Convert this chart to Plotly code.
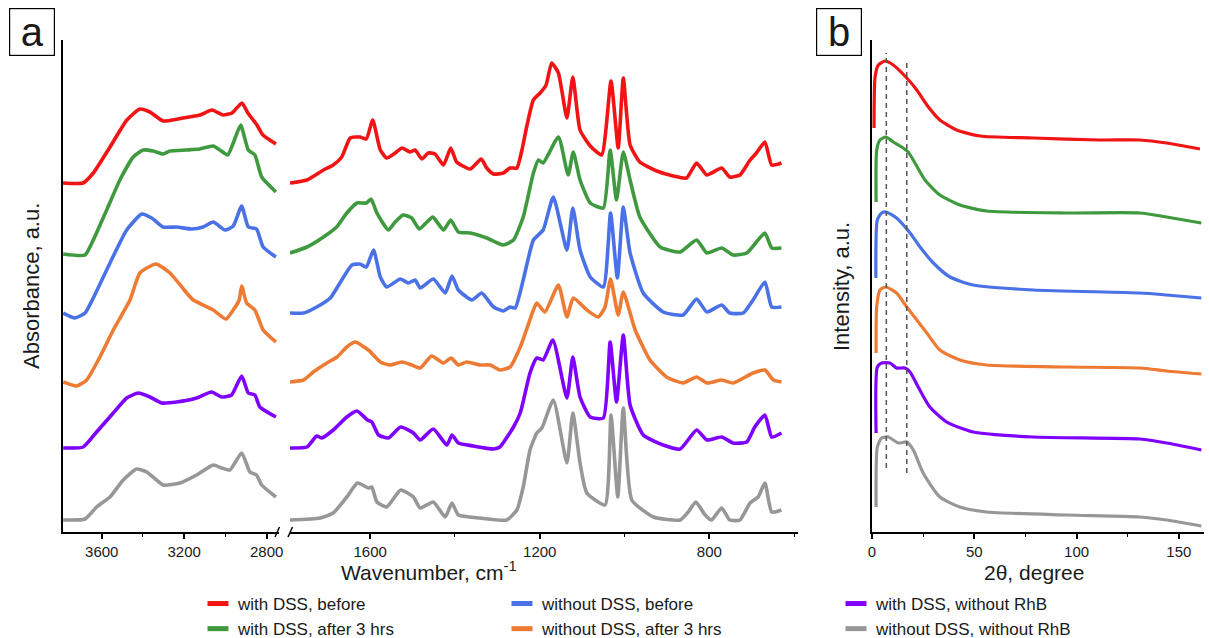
import plotly.graph_objects as go

W, H = 1209, 638

# ---------------- data: FTIR (panel a), stacked absorbance, a.u. ----------------
names = ["with DSS, before", "with DSS, after 3 hrs", "without DSS, before",
         "without DSS, after 3 hrs", "with DSS, without RhB", "without DSS, without RhB"]
colors = ["#f01414", "#3f9a3f", "#4a72e6", "#ed7b34", "#7f00ff", "#979797"]

# high-wavenumber window (3800-2740 cm-1)
wn_hi_red = [3788, 3691, 3641, 3560, 3478, 3415, 3366, 3302, 3206, 3124, 3065, 3012, 2968, 2920, 2891, 2847, 2818, 2755]
ab_hi_red = [349, 349, 359, 385, 412, 423, 420, 411, 414, 417, 422, 417, 419, 429, 419, 407, 397, 388]
wn_hi_green = [3787, 3681, 3641, 3576, 3512, 3447, 3399, 3350, 3302, 3269, 3188, 3124, 3059, 3027, 2989, 2962, 2926, 2889, 2857, 2824, 2755]
ab_hi_green = [278, 277, 292, 322, 352, 375, 382, 381, 378, 381, 382, 383, 386, 382, 377, 389, 407, 382, 377, 355, 340]
wn_hi_blue = [3787, 3730, 3681, 3641, 3560, 3479, 3406, 3358, 3302, 3237, 3164, 3108, 3059, 3002, 2962, 2921, 2889, 2849, 2817, 2755]
ab_hi_blue = [219, 214, 219, 234, 269, 302, 318, 314, 305, 305, 303, 305, 310, 302, 306, 326, 305, 303, 285, 275]
wn_hi_orange = [3787, 3722, 3673, 3609, 3544, 3463, 3415, 3337, 3269, 3188, 3156, 3059, 2997, 2962, 2933, 2921, 2897, 2857, 2817, 2755]
ab_hi_orange = [150, 146, 152, 175, 202, 232, 259, 268, 259, 239, 232, 222, 213, 222, 232, 246, 229, 222, 202, 190]
wn_hi_purple = [3787, 3690, 3625, 3544, 3479, 3423, 3366, 3309, 3237, 3140, 3067, 3018, 2970, 2921, 2889, 2857, 2833, 2755]
ab_hi_purple = [84, 85, 100, 119, 134, 139, 135, 129, 130, 134, 140, 135, 137, 156, 139, 137, 125, 115]
wn_hi_gray = [3787, 3681, 3625, 3560, 3496, 3431, 3382, 3302, 3221, 3140, 3059, 3018, 2978, 2921, 2881, 2849, 2824, 2755]
ab_hi_gray = [12, 13, 25, 35, 52, 63, 60, 47, 49, 57, 67, 64, 62, 79, 60, 57, 47, 35]

# fingerprint window (1790-590 cm-1)
wn_lo_red = [1789, 1749, 1710, 1687, 1667, 1647, 1624, 1609, 1594, 1576, 1561, 1541, 1525, 1506, 1494, 1478, 1463, 1447,
             1427, 1410, 1396, 1364, 1338, 1325, 1309, 1286, 1270, 1254, 1242, 1230, 1215, 1199, 1185, 1172, 1156, 1136,
             1122, 1105, 1081, 1054, 1032, 1015, 1003, 987, 964, 924, 885, 854, 830, 806, 771, 752, 728, 704, 689, 669,
             653, 630]
ab_lo_red = [349, 352, 362, 367, 375, 394, 395, 393, 412, 382, 374, 379, 384, 380, 382, 373, 379, 378,
             367, 384, 370, 363, 373, 364, 358, 359, 364, 364, 382, 407, 432, 439, 447, 469, 459, 414,
             455, 402, 386, 377, 451, 384, 454, 387, 370, 361, 356, 354, 369, 357, 364, 355, 357, 372, 379, 390,
             367, 369]
wn_lo_green = [1789, 1749, 1710, 1679, 1655, 1631, 1609, 1598, 1584, 1557, 1541, 1522, 1502, 1484, 1466, 1452, 1427,
               1410, 1392, 1364, 1325, 1286, 1262, 1239, 1215, 1203, 1192, 1156, 1133, 1121, 1105, 1081, 1050, 1034,
               1019, 1003, 987, 964, 916, 869, 830, 806, 771, 744, 712, 689, 669, 653, 630]
ab_lo_green = [279, 285, 295, 305, 319, 329, 329, 333, 319, 302, 310, 317, 314, 303, 310, 315, 302,
               312, 300, 299, 294, 287, 292, 315, 359, 372, 369, 395, 357, 380, 352, 329, 324, 382,
               332, 380, 352, 315, 285, 280, 292, 279, 284, 277, 279, 290, 299, 284, 284]
wn_lo_blue = [1789, 1757, 1726, 1694, 1667, 1643, 1624, 1609, 1592, 1576, 1561, 1529, 1510, 1494, 1482, 1451, 1423,
              1407, 1392, 1360, 1337, 1309, 1286, 1270, 1258, 1239, 1215, 1192, 1168, 1136, 1122, 1105, 1081, 1050,
              1033, 1017, 1003, 987, 956, 909, 862, 830, 806, 771, 752, 720, 697, 669, 653, 630]
ab_lo_blue = [219, 219, 225, 234, 252, 267, 268, 265, 282, 255, 245, 253, 249, 252, 244, 253, 239,
              256, 242, 232, 239, 225, 221, 225, 224, 252, 292, 302, 335, 282, 324, 282, 255, 245,
              319, 254, 325, 279, 239, 220, 217, 233, 220, 227, 219, 219, 232, 250, 225, 225]
wn_lo_orange = [1789, 1757, 1734, 1702, 1678, 1655, 1635, 1604, 1576, 1553, 1525, 1502, 1482, 1455, 1427, 1409, 1392,
                1372, 1341, 1317, 1294, 1270, 1246, 1215, 1207, 1188, 1156, 1136, 1121, 1089, 1062, 1046, 1033, 1015,
                1003, 975, 940, 901, 862, 830, 806, 771, 744, 697, 669, 649, 630]
ab_lo_orange = [150, 152, 160, 169, 175, 185, 190, 182, 170, 167, 170, 167, 164, 176, 169, 174, 167,
                170, 167, 167, 162, 165, 185, 222, 229, 220, 247, 215, 234, 222, 215, 225, 253, 217,
                240, 202, 172, 155, 149, 155, 149, 152, 149, 159, 162, 152, 150]
wn_lo_purple = [1789, 1749, 1726, 1714, 1687, 1655, 1631, 1606, 1596, 1580, 1557, 1528, 1498, 1482, 1451, 1419, 1407,
                1392, 1357, 1309, 1294, 1262, 1246, 1223, 1207, 1192, 1169, 1136, 1122, 1105, 1081, 1050, 1034, 1019,
                1003, 987, 956, 909, 869, 830, 806, 771, 744, 712, 693, 669, 653, 630]
ab_lo_purple = [84, 85, 96, 94, 102, 115, 121, 112, 110, 97, 94, 105, 99, 92, 103, 87, 97,
                89, 86, 83, 85, 105, 119, 159, 174, 172, 192, 134, 175, 135, 115, 114, 190, 130,
                197, 127, 97, 87, 83, 102, 92, 95, 89, 90, 105, 117, 95, 99]
wn_lo_gray = [1789, 1718, 1687, 1655, 1630, 1604, 1596, 1584, 1561, 1528, 1498, 1482, 1451, 1423, 1407, 1392, 1341,
              1278, 1254, 1239, 1223, 1207, 1195, 1168, 1136, 1122, 1105, 1089, 1046, 1032, 1016, 1003, 983, 932,
              869, 850, 832, 810, 795, 771, 752, 728, 704, 685, 669, 653, 630]
ab_lo_gray = [12, 14, 19, 35, 49, 44, 45, 30, 25, 42, 35, 24, 30, 15, 29, 17, 14,
              12, 22, 45, 82, 99, 104, 132, 69, 119, 69, 39, 27, 117, 35, 124, 32, 15,
              12, 20, 30, 17, 12, 24, 12, 12, 29, 35, 49, 20, 22]

# ---------------- data: XRD (panel b), stacked intensity, a.u. ----------------
tt_red = [1.0, 1.5, 3.1, 6.4, 10.4, 17.0, 21.9, 26.8, 33.2, 41.4, 52.8, 78.8, 111.4, 131.0, 144.0, 160.3]
in_red = [404, 455, 467, 471, 467, 454, 442, 427, 412, 402, 396, 394, 392, 392, 389, 383]
tt_green = [2.0, 2.3, 3.9, 6.8, 10.4, 14.5, 17.7, 21.0, 25.9, 33.2, 43.0, 56.1, 95.2, 131.0, 144.0, 161.0]
in_green = [330, 382, 392, 395, 390, 385, 380, 369, 352, 337, 327, 321, 319, 319, 315, 309]
tt_blue = [1.9, 2.6, 4.7, 6.8, 12.0, 18.6, 23.5, 30.0, 38.1, 49.5, 78.8, 131.0, 144.0, 161.0]
in_blue = [254, 312, 319, 320, 314, 299, 285, 269, 255, 247, 242, 239, 237, 234]
tt_orange = [2.0, 2.3, 3.9, 6.8, 12.0, 17.0, 21.9, 26.8, 33.2, 43.0, 56.1, 95.2, 131.0, 144.0, 161.0]
in_orange = [179, 225, 242, 245, 239, 225, 212, 199, 182, 172, 167, 165, 164, 161, 158]
tt_purple = [2.0, 2.6, 4.7, 8.8, 12.0, 16.1, 18.6, 22.6, 28.3, 36.5, 49.5, 78.8, 131.0, 144.0, 161.0]
in_purple = [99, 165, 169, 169, 164, 164, 160, 145, 125, 110, 100, 95, 93, 89, 82]
tt_gray = [2.0, 2.6, 4.7, 8.0, 12.9, 17.0, 20.2, 25.0, 33.2, 43.0, 56.1, 95.2, 131.0, 144.0, 161.0]
in_gray = [25, 85, 94, 95, 89, 90, 82, 59, 35, 25, 20, 17, 15, 12, 6]

# reference positions (dashed guides) in 2-theta
guide_tt = [7, 17]
guide_top = [479, 472]
guide_bottom = [64, 59]

hi = [(wn_hi_red, ab_hi_red), (wn_hi_green, ab_hi_green), (wn_hi_blue, ab_hi_blue),
      (wn_hi_orange, ab_hi_orange), (wn_hi_purple, ab_hi_purple), (wn_hi_gray, ab_hi_gray)]
lo = [(wn_lo_red, ab_lo_red), (wn_lo_green, ab_lo_green), (wn_lo_blue, ab_lo_blue),
      (wn_lo_orange, ab_lo_orange), (wn_lo_purple, ab_lo_purple), (wn_lo_gray, ab_lo_gray)]
xrd = [(tt_red, in_red), (tt_green, in_green), (tt_blue, in_blue),
       (tt_orange, in_orange), (tt_purple, in_purple), (tt_gray, in_gray)]
legend_of = ["legend", "legend", "legend2", "legend2", "legend3", "legend3"]

FONT = "Liberation Sans, Arial, Helvetica, sans-serif"
fig = go.Figure()

for i in range(6):
    ln = dict(color=colors[i], width=3.6, shape="spline", smoothing=0.5)
    fig.add_trace(go.Scatter(x=hi[i][0], y=hi[i][1], xaxis="x", yaxis="y", mode="lines",
                             line=ln, showlegend=False, hoverinfo="skip"))
    fig.add_trace(go.Scatter(x=lo[i][0], y=lo[i][1], xaxis="x2", yaxis="y", mode="lines",
                             line=ln, showlegend=False, hoverinfo="skip"))
    fig.add_trace(go.Scatter(x=xrd[i][0], y=xrd[i][1], xaxis="x3", yaxis="y2", mode="lines",
                             line=dict(color=colors[i], width=3.2, shape="spline", smoothing=0.6),
                             showlegend=False, hoverinfo="skip"))

for k in range(len(guide_tt)):
    fig.add_trace(go.Scatter(x=[guide_tt[k], guide_tt[k]], y=[guide_bottom[k], guide_top[k]],
                             xaxis="x3", yaxis="y2", mode="lines",
                             line=dict(color="#555555", width=1.5, dash="5px,4px"),
                             showlegend=False, hoverinfo="skip"))

# legend entries
for i in range(6):
    fig.add_trace(go.Scatter(x=[None], y=[None], xaxis="x3", yaxis="y2", mode="markers",
                             marker=dict(symbol="line-ew", size=15, color=colors[i],
                                         line=dict(color=colors[i], width=5)),
                             name=names[i], legend=legend_of[i], showlegend=True))

def px_x(p):
    return p / W

def px_y(p):
    return 1 - p / H

ydom = [px_y(532), px_y(40)]
axis_common = dict(showline=True, linecolor="black", linewidth=2, showgrid=False, zeroline=False,
                   ticks="outside", ticklen=5, tickwidth=1.5, tickcolor="black",
                   tickfont=dict(family=FONT, size=15, color="#1a1a1a"))

fig.update_layout(
    width=W, height=H, margin=dict(l=0, r=0, t=0, b=0, autoexpand=False), autosize=False,
    paper_bgcolor="white", plot_bgcolor="white",
    font=dict(family=FONT, color="#1a1a1a"),
    xaxis=dict(domain=[px_x(63), px_x(279)], range=[3788, 2740], anchor="y",
               tickmode="linear", tick0=0, dtick=400,
               minor=dict(ticks="outside", ticklen=3, tickwidth=1, tickcolor="black", dtick=200, tick0=0),
               **axis_common),
    xaxis2=dict(domain=[px_x(290), px_x(798)], range=[1789, 591], anchor="y",
                tickmode="linear", tick0=0, dtick=400,
                minor=dict(ticks="outside", ticklen=3, tickwidth=1, tickcolor="black", dtick=200, tick0=0),
                **axis_common),
    yaxis=dict(domain=ydom, range=[0, 492], anchor="x", showline=True, linecolor="black", linewidth=2,
               showticklabels=False, ticks="", showgrid=False, zeroline=False),
    xaxis3=dict(domain=[px_x(872), px_x(1204)], range=[0, 162.3], anchor="y2",
                tickmode="linear", tick0=0, dtick=50,
                minor=dict(ticks="outside", ticklen=3, tickwidth=1, tickcolor="black", dtick=25, tick0=0),
                **axis_common),
    yaxis2=dict(domain=ydom, range=[0, 492], anchor="x3", showline=True, linecolor="black", linewidth=2,
                showticklabels=False, ticks="", showgrid=False, zeroline=False),
)

leg_common = dict(yanchor="top", xanchor="left", orientation="v", bgcolor="rgba(0,0,0,0)",
                  borderwidth=0, font=dict(family=FONT, size=17, color="#1a1a1a"),
                  itemclick=False, itemdoubleclick=False, tracegroupgap=0)
fig.update_layout(
    legend=dict(x=px_x(198), y=px_y(586), **leg_common),
    legend2=dict(x=px_x(502), y=px_y(586), **leg_common),
    legend3=dict(x=px_x(836), y=px_y(586), **leg_common),
)

# axis break marks
shapes = []
for x0 in (275, 288):
    shapes.append(dict(type="line", xref="paper", yref="paper",
                       x0=px_x(x0), y0=px_y(537), x1=px_x(x0 + 4.5), y1=px_y(527),
                       line=dict(color="black", width=1.5)))
fig.update_layout(shapes=shapes)

ann = [
    dict(text="Wavenumber, cm<sup>-1</sup>", x=px_x(429), y=px_y(571), font=dict(size=21)),
    dict(text="2θ, degree", x=px_x(1034), y=px_y(572), font=dict(size=21)),
    dict(text="Absorbance, a.u.", x=px_x(31), y=px_y(286), textangle=-90, font=dict(size=22)),
    dict(text="Intensity, a.u.", x=px_x(841), y=px_y(287), textangle=-90, font=dict(size=22)),
    dict(text="a", x=px_x(31.7), y=px_y(32), font=dict(size=40), width=44, height=46,
         bordercolor="black", borderwidth=1.2, borderpad=0, bgcolor="white"),
    dict(text="b", x=px_x(839.3), y=px_y(32), font=dict(size=40), width=44, height=46,
         bordercolor="black", borderwidth=1.2, borderpad=0, bgcolor="white"),
]
for a in ann:
    a.update(xref="paper", yref="paper", showarrow=False, xanchor="center", yanchor="middle")
    a["font"] = dict(family=FONT, color="#1a1a1a", **a["font"])
fig.update_layout(annotations=ann)

fig.write_html("out.html")
